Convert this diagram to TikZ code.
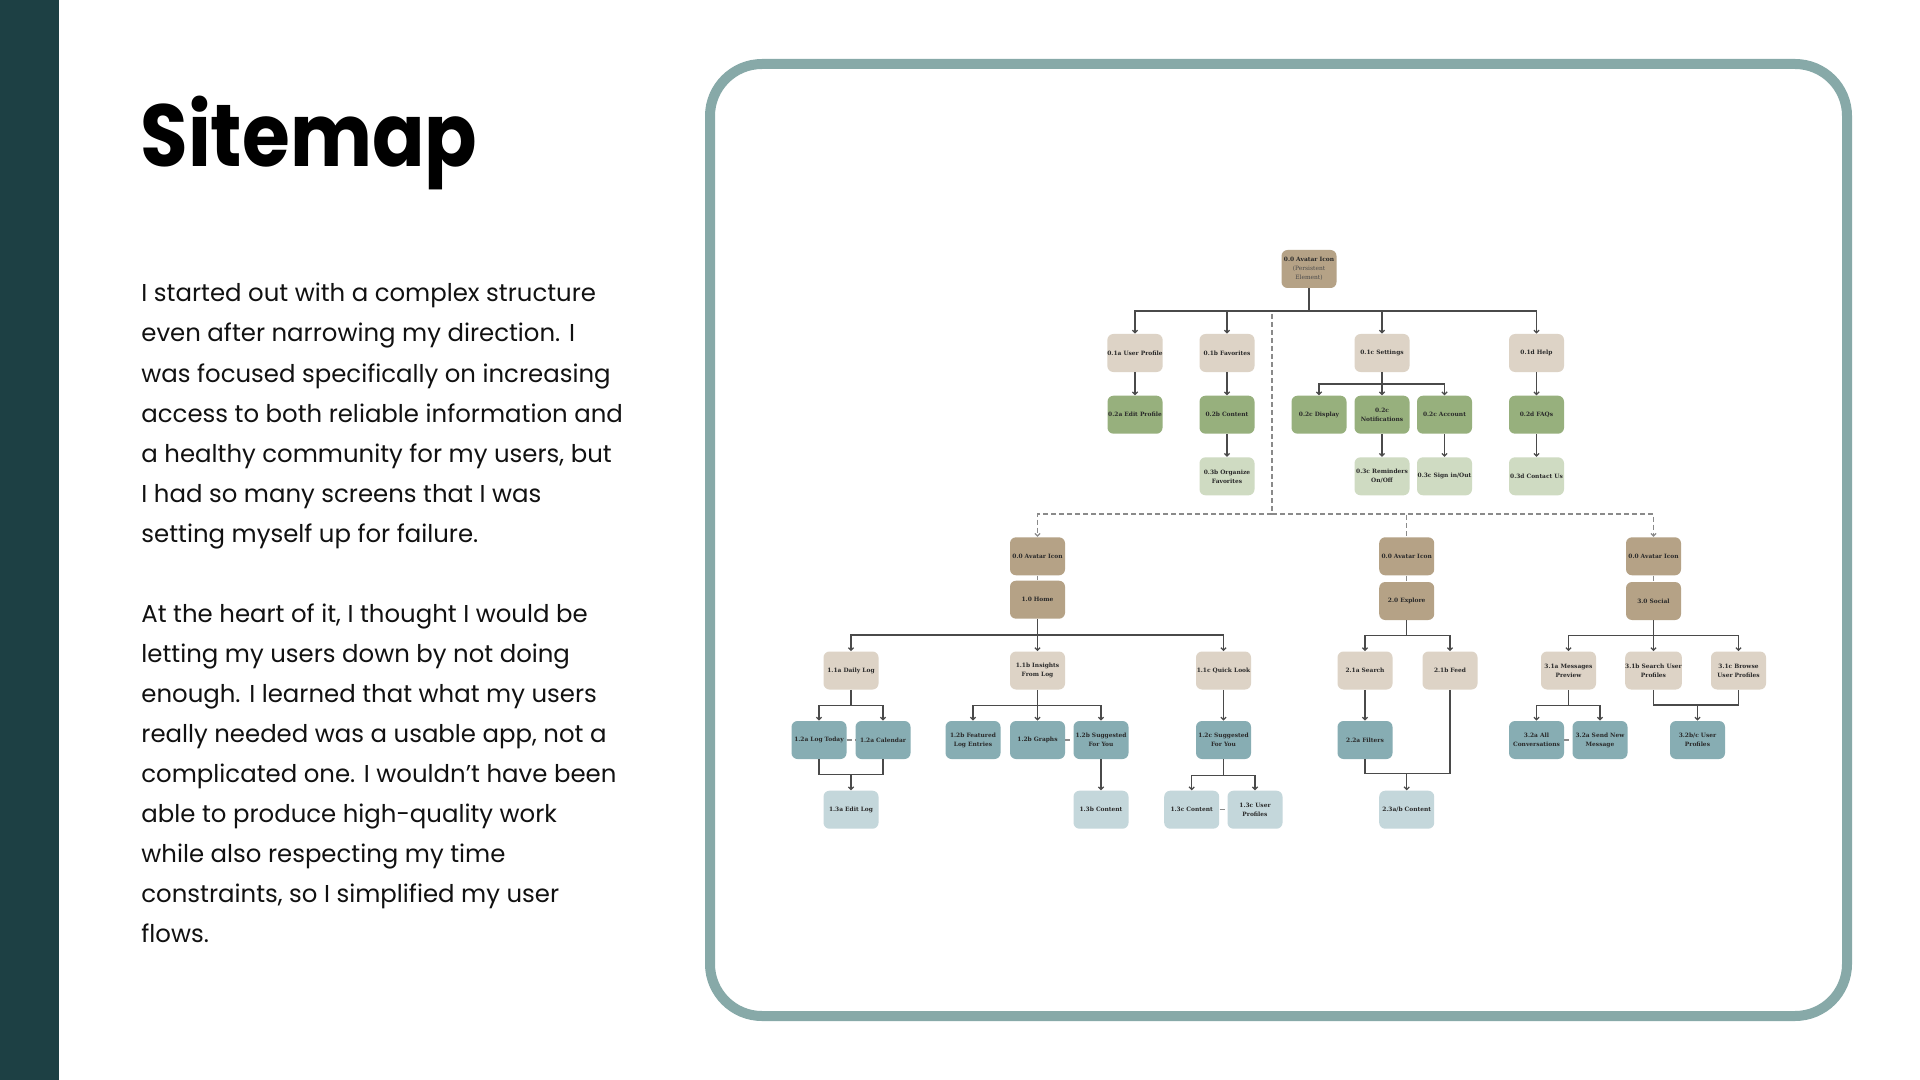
\documentclass[tikz,border=0pt]{standalone}
\usepackage{fontspec}
\usepackage{graphicx}
\setmainfont{Poppins}
\newfontfamily\titlefont{Poppins}[UprightFont=* Bold]
\newfontfamily\boxfont{DejaVu Serif}
\usetikzlibrary{arrows.meta}
\definecolor{leftbar}{HTML}{1D4044}
\definecolor{frame}{HTML}{87A9A8}
\definecolor{tanD}{HTML}{B5A286}
\definecolor{tanL}{HTML}{DDD3C6}
\definecolor{grnD}{HTML}{97B07D}
\definecolor{grnL}{HTML}{CFDBC2}
\definecolor{tlD}{HTML}{87ADB3}
\definecolor{tlL}{HTML}{C4D7DB}
\definecolor{linegray}{HTML}{4A4A4A}
\definecolor{dashgray}{HTML}{8A8A8A}
\definecolor{boxtext}{HTML}{2A2A2A}
\definecolor{bodytext}{HTML}{111111}
\newcommand\bodyline[3]{\node[bodytxt] (#1) at (141,#2) {#3};}
\begin{document}
\begin{tikzpicture}[x=0.5pt,y=-0.5pt,
  nbox/.style={rounded corners=3pt, minimum width=27.5pt, minimum height=19pt, inner sep=0pt, align=center,
    font=\boxfont\bfseries\fontsize{2.95}{4.5}\selectfont, text=boxtext},
  conn/.style={draw=linegray, line width=0.6pt, -{Straight Barb[length=1.3pt,width=2.6pt]}},
  plain/.style={draw=linegray, line width=0.6pt},
  dconn/.style={draw=dashgray, line width=0.6pt, dash pattern=on 2.5pt off 1.5pt},
  dconnarr/.style={dconn, -{Straight Barb[length=1.3pt,width=2.6pt]}},
  bodytxt/.style={anchor=base west, inner sep=0pt, text=bodytext, font=\fontsize{12.2}{12.2}\selectfont}
]
\useasboundingbox (0,0) rectangle (1920,1080);
\fill[white] (0,0) rectangle (1920,1080);
\fill[leftbar] (0,0) rectangle (59,1080);
\draw[frame, line width=5pt, rounded corners=26pt] (710,64) rectangle (1847,1016);

% title and text
\node[anchor=base west, inner sep=0pt, font=\titlefont\fontsize{44}{44}\selectfont] (title) at (140,167) {\scalebox{0.88}[1]{Sitemap}};
\bodyline{b1}{302}{I started out with a complex structure}
\bodyline{b2}{342}{even after narrowing my direction. I}
\bodyline{b3}{382}{was focused specifically on increasing}
\bodyline{b4}{422}{access to both reliable information and}
\bodyline{b5}{462}{a healthy community for my users, but}
\bodyline{b6}{502}{I had so many screens that I was}
\bodyline{b7}{542}{setting myself up for failure.}
\bodyline{c1}{622}{At the heart of it, I thought I would be}
\bodyline{c2}{662}{letting my users down by not doing}
\bodyline{c3}{702}{enough. I learned that what my users}
\bodyline{c4}{742}{really needed was a usable app, not a}
\bodyline{c5}{782}{complicated one. I wouldn’t have been}
\bodyline{c6}{822}{able to produce high-quality work}
\bodyline{c7}{862}{while also respecting my time}
\bodyline{c8}{902}{constraints, so I simplified my user}
\bodyline{c9}{942}{flows.}

% ---------- top tree ----------
\node[nbox, fill=tanD] (root) at (1309,269) {0.0 Avatar Icon\\{\mdseries\color{boxtext!85}(Persistent}\\{\mdseries\color{boxtext!85}Element)}};
\node[nbox, fill=tanL] (u1a) at (1135,353) {0.1a User Profile};
\node[nbox, fill=tanL] (u1b) at (1227,353) {0.1b Favorites};
\node[nbox, fill=tanL] (u1c) at (1382,353) {0.1c Settings};
\node[nbox, fill=tanL] (u1d) at (1536.5,353) {0.1d Help};
\node[nbox, fill=grnD] (e2a) at (1135,414.7) {0.2a Edit Profile};
\node[nbox, fill=grnD] (c2b) at (1227,414.7) {0.2b Content};
\node[nbox, fill=grnD] (d2c) at (1319,414.7) {0.2c Display};
\node[nbox, fill=grnD] (n2c) at (1382,414.7) {0.2c\\Notifications};
\node[nbox, fill=grnD] (a2c) at (1444.5,414.7) {0.2c Account};
\node[nbox, fill=grnD] (f2d) at (1536.5,414.7) {0.2d FAQs};
\node[nbox, fill=grnL] (o3b) at (1227,476.3) {0.3b Organize\\Favorites};
\node[nbox, fill=grnL] (r3c) at (1382,476.3) {0.3c Reminders\\On/Off};
\node[nbox, fill=grnL] (s3c) at (1444.5,476.3) {0.3c Sign in/Out};
\node[nbox, fill=grnL] (cu3d) at (1536.5,476.3) {0.3d Contact Us};

\coordinate (jt) at (1309,311);
\coordinate (js) at (1382,384);
\coordinate (dv1) at (1272,311);
\coordinate (dv2) at (1272,514);

\draw[dconn] (jt) -- (dv1) -- (dv2);
\draw[conn] (root) -- (jt) -| (u1a);
\draw[conn] (jt) -| (u1b);
\draw[conn] (jt) -| (u1c);
\draw[conn] (jt) -| (u1d);
\draw[conn] (u1a) -- (e2a);
\draw[conn] (u1b) -- (c2b);
\draw[conn] (c2b) -- (o3b);
\draw[conn] (u1c) -- (js) -| (d2c);
\draw[conn] (js) -- (n2c);
\draw[conn] (js) -| (a2c);
\draw[conn] (n2c) -- (r3c);
\draw[conn] (a2c) -- (s3c);
\draw[conn] (u1d) -- (f2d);
\draw[conn] (f2d) -- (cu3d);

% ---------- bottom trees ----------
\node[nbox, fill=tanD] (ha) at (1037.5,556.3) {0.0 Avatar Icon};
\node[nbox, fill=tanD] (home) at (1037.5,599.7) {1.0 Home};
\node[nbox, fill=tanD] (ea) at (1406.7,556.3) {0.0 Avatar Icon};
\node[nbox, fill=tanD] (ex) at (1406.7,601) {2.0 Explore};
\node[nbox, fill=tanD] (sa) at (1653.5,556.3) {0.0 Avatar Icon};
\node[nbox, fill=tanD] (so) at (1653.5,601) {3.0 Social};

\node[nbox, fill=tanL] (d11a) at (851,670.5) {1.1a Daily Log};
\node[nbox, fill=tanL] (i11b) at (1037.5,670.5) {1.1b Insights\\From Log};
\node[nbox, fill=tanL] (q11c) at (1223.5,670.5) {1.1c Quick Look};
\node[nbox, fill=tanL] (se) at (1365,670.5) {2.1a Search};
\node[nbox, fill=tanL] (fd) at (1450,670.5) {2.1b Feed};
\node[nbox, fill=tanL] (mp) at (1568.5,670.5) {3.1a Messages\\Preview};
\node[nbox, fill=tanL] (su) at (1653.5,670.5) {3.1b Search User\\Profiles};
\node[nbox, fill=tanL] (br) at (1738.5,670.5) {3.1c Browse\\User Profiles};

\node[nbox, fill=tlD] (lt) at (819,740) {1.2a Log Today};
\node[nbox, fill=tlD] (cal) at (883,740) {1.2a Calendar};
\node[nbox, fill=tlD] (fe) at (973,740) {1.2b Featured\\Log Entries};
\node[nbox, fill=tlD] (gr) at (1037.5,740) {1.2b Graphs};
\node[nbox, fill=tlD] (sy) at (1101,740) {1.2b Suggested\\For You};
\node[nbox, fill=tlD] (s2c) at (1223.5,740) {1.2c Suggested\\For You};
\node[nbox, fill=tlD] (fi) at (1365,740) {2.2a Filters};
\node[nbox, fill=tlD] (al) at (1536.5,740) {3.2a All\\Conversations};
\node[nbox, fill=tlD] (sn) at (1600,740) {3.2a Send New\\Message};
\node[nbox, fill=tlD] (uc) at (1697.5,740) {3.2b/c User\\Profiles};

\node[nbox, fill=tlL] (el) at (851,809.7) {1.3a Edit Log};
\node[nbox, fill=tlL] (c3b) at (1101,809.7) {1.3b Content};
\node[nbox, fill=tlL] (c3c) at (1191.7,809.7) {1.3c Content};
\node[nbox, fill=tlL] (up3c) at (1255,809.7) {1.3c User\\Profiles};
\node[nbox, fill=tlL] (ct) at (1406.7,809.7) {2.3a/b Content};

% dashed links from top tree
\draw[dconnarr] (dv2) -| (ha);
\draw[dconn] (dv2) -| (ea);
\draw[dconnarr] (dv2) -| (sa);
\draw[dconn] (ha) -- (home);
\draw[dconn] (ea) -- (ex);
\draw[dconn] (sa) -- (so);

% home
\coordinate (jh) at (1037.5,635);
\draw[conn] (home) -- (jh) -| (d11a);
\draw[conn] (jh) -- (i11b);
\draw[conn] (jh) -| (q11c);
\coordinate (jd) at (851,705.7);
\draw[conn] (d11a) -- (jd) -| (lt);
\draw[conn] (jd) -| (cal);
\draw[dconn] (lt) -- (cal);
\coordinate (m1) at (851,774.7);
\draw[plain] (lt) |- (m1);
\draw[plain] (cal) |- (m1);
\draw[conn] (m1) -- (el);
\coordinate (ji) at (1037.5,705.7);
\draw[conn] (i11b) -- (ji) -| (fe);
\draw[conn] (ji) -- (gr);
\draw[conn] (ji) -| (sy);
\draw[dconn] (gr) -- (sy);
\draw[conn] (sy) -- (c3b);
\draw[conn] (q11c) -- (s2c);
\coordinate (jq) at (1223.5,775.3);
\draw[conn] (s2c) -- (jq) -| (c3c);
\draw[conn] (jq) -| (up3c);
\draw[dconn] (c3c) -- (up3c);

% explore
\coordinate (je) at (1406.7,635.3);
\draw[conn] (ex) -- (je) -| (se);
\draw[conn] (je) -| (fd);
\draw[conn] (se) -- (fi);
\coordinate (m2) at (1406.7,773.3);
\draw[plain] (fi) |- (m2);
\draw[plain] (fd) |- (m2);
\draw[conn] (m2) -- (ct);

% social
\coordinate (jso) at (1653.5,635.7);
\draw[conn] (so) -- (jso) -| (mp);
\draw[conn] (jso) -- (su);
\draw[conn] (jso) -| (br);
\coordinate (jm) at (1568.5,705.7);
\draw[conn] (mp) -- (jm) -| (al);
\draw[conn] (jm) -| (sn);
\draw[dconn] (al) -- (sn);
\coordinate (m3) at (1697.5,705);
\draw[plain] (su) |- (m3);
\draw[plain] (br) |- (m3);
\draw[conn] (m3) -- (uc);
\end{tikzpicture}
\end{document}
